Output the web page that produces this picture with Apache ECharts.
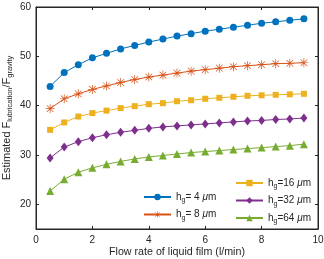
<!DOCTYPE html>
<html><head><meta charset="utf-8">
<script src="https://cdn.jsdelivr.net/npm/echarts@6/dist/echarts.min.js"></script>
<style>html,body{margin:0;padding:0;background:#fff}#c{width:324px;height:259px}</style>
</head><body><div id="c"></div>
<script>
const flow = [0.5,1,1.5,2,2.5,3,3.5,4,4.5,5,5.5,6,6.5,7,7.5,8,8.5,9,9.5];
const hg4  = [43.9,46.7,48.3,49.7,50.6,51.5,52.2,52.9,53.5,54.1,54.6,55.1,55.5,55.9,56.3,56.7,57.0,57.3,57.6];
const hg8  = [39.4,41.4,42.4,43.3,44.0,44.7,45.3,45.8,46.2,46.6,47.0,47.3,47.6,47.9,48.1,48.3,48.5,48.6,48.7];
const hg16 = [35.1,36.6,37.8,38.5,39.0,39.5,39.9,40.3,40.5,40.9,41.1,41.4,41.6,41.8,42.0,42.1,42.2,42.3,42.4];
const hg32 = [29.4,31.6,32.7,33.5,34.1,34.6,35.0,35.4,35.7,35.9,36.1,36.3,36.5,36.7,36.9,37.0,37.2,37.3,37.5];
const hg64 = [22.7,25.1,26.5,27.4,28.1,28.7,29.2,29.6,29.9,30.2,30.5,30.7,30.9,31.1,31.3,31.5,31.7,31.9,32.2];
const xTicks = [0,2,4,6,8,10];
const yTicks = [20,30,40,50,60];
const seriesNames = ['hg4','hg8','hg16','hg32','hg64'];
const legendLabels = {hg4:' 4', hg8:' 8', hg16:'16', hg32:'32', hg64:'64'};

const FONT = '"Liberation Sans", Arial, sans-serif';
const AX = '#262626';
const colors = ['#0072BD','#D95319','#EDB120','#7E2F8E','#77AC30'];
const star = 'path://M9.2 0L10.8 0L10.8 20L9.2 20Z M0 9.2L20 9.2L20 10.8L0 10.8Z M2.1 3.2L3.2 2.1L17.9 16.8L16.8 17.9Z M16.8 2.1L17.9 3.2L3.2 17.9L2.1 16.8Z';
const symbols = ['circle', star, 'rect', 'diamond', 'triangle'];
const sizes = [7, 9, 6, [7,9], 8];
const datas = [hg4,hg8,hg16,hg32,hg64];

const chart = echarts.init(document.getElementById('c'));
const pair = arr => arr.map((v,i)=>[flow[i], v]);
const legendText = {
  color: AX, fontFamily: FONT, fontSize: 10,
  rich: { n:{fontSize:10,color:AX,fontFamily:FONT}, s:{fontSize:7,color:AX,fontFamily:FONT,padding:[7,0,0,0]}, m:{fontSize:10,color:AX,fontFamily:FONT,fontStyle:'italic'} }
};
const fmt = name => '{n|h}{s|g}{n|=' + legendLabels[name] + ' }{m|μ}{n|m}';
const commonLegend = {
  orient:'vertical', itemWidth:27, itemHeight:8, itemGap:5.5, padding:0,
  textStyle: legendText, formatter: fmt
};
const tick = vals => ({show:true,inside:true,length:3,lineStyle:{color:AX},customValues:vals});
const line = {show:true,onZero:false,lineStyle:{color:AX,width:1}};
chart.setOption({
  animation:false,
  grid:{left:36,right:6,top:7,bottom:30,containLabel:false,outerBoundsMode:'none',
        show:true,borderColor:AX,borderWidth:1,backgroundColor:'transparent'},
  legend:[
    Object.assign({left:143, top:192, data:['hg4','hg8']}, commonLegend),
    Object.assign({left:235, top:178, data:['hg16','hg32','hg64']}, commonLegend)
  ],
  xAxis:[
    {type:'value',min:0,max:10,interval:2,position:'bottom',
      name:'Flow rate of liquid film (l/min)',nameLocation:'middle',nameGap:18,nameMoveOverlap:false,
      nameTextStyle:{color:AX,fontFamily:FONT,fontSize:10.7},
      axisLabel:{color:AX,fontFamily:FONT,fontSize:10,margin:6,customValues:xTicks},
      axisLine:line, axisTick:tick(xTicks), splitLine:{show:false}},
    {type:'value',min:0,max:10,interval:2,position:'top',axisLabel:{show:false},
      axisLine:line, axisTick:tick(xTicks), splitLine:{show:false}}
  ],
  yAxis:[
    {type:'value',min:15,max:60,interval:5,position:'left',
      name:'{n|Estimated F}{s|lubrication}{n|/F}{s|gravity}',nameLocation:'middle',nameGap:22,nameMoveOverlap:false,
      nameTextStyle:{color:AX,fontFamily:FONT,fontSize:11,
        rich:{n:{fontSize:11,color:AX,fontFamily:FONT},s:{fontSize:7.5,color:AX,fontFamily:FONT,padding:[7,0,0,0]}}},
      axisLabel:{color:AX,fontFamily:FONT,fontSize:10,margin:5,customValues:yTicks},
      axisLine:line, axisTick:tick(yTicks), splitLine:{show:false}},
    {type:'value',min:15,max:60,interval:5,position:'right',axisLabel:{show:false},
      axisLine:line, axisTick:tick(yTicks), splitLine:{show:false}}
  ],
  series: seriesNames.map((n,i)=>({
    name:n, type:'line', data:pair(datas[i]), xAxisIndex:0, yAxisIndex:0,
    symbol:symbols[i], symbolSize:sizes[i], showSymbol:true,
    lineStyle:{color:colors[i],width:1}, itemStyle:{color:colors[i]}
  }))
});
</script></body></html>
